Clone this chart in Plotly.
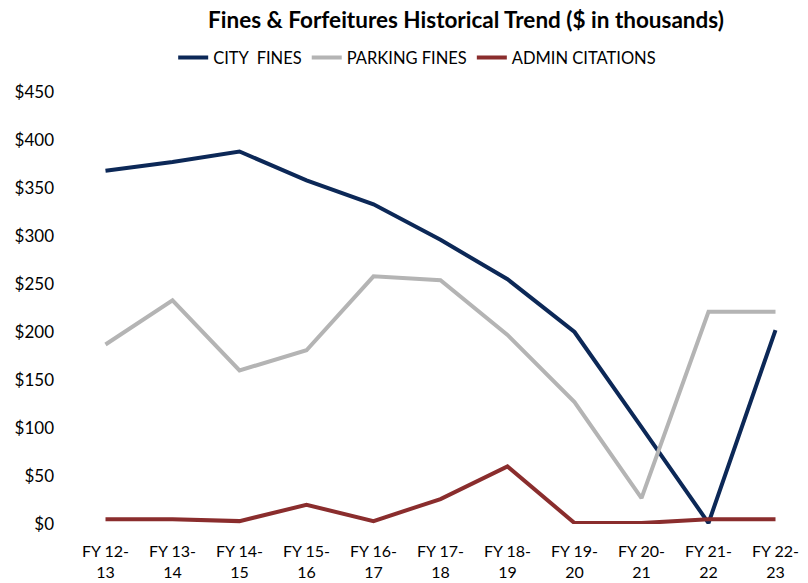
import plotly.graph_objects as go

categories = ["FY 12-<br>13", "FY 13-<br>14", "FY 14-<br>15", "FY 15-<br>16", "FY 16-<br>17",
              "FY 17-<br>18", "FY 18-<br>19", "FY 19-<br>20", "FY 20-<br>21", "FY 21-<br>22", "FY 22-<br>23"]
city_fines = [368, 377, 388, 358, 333, 296, 255, 200, 101, 1, 202]
parking_fines = [187, 233, 160, 181, 258, 254, 197, 127, 27, 221, 221]
admin_citations = [5, 5, 3, 20, 3, 26, 60, 1, 1, 5, 5]
y_ticks = [0, 50, 100, 150, 200, 250, 300, 350, 400, 450]
y_tick_labels = ["$" + str(v) for v in y_ticks]

FONT = "Lato, sans-serif"

fig = go.Figure()
series = [("CITY  FINES", city_fines, "#0C2857"),
          ("PARKING FINES", parking_fines, "#B4B4B4"),
          ("ADMIN CITATIONS", admin_citations, "#8A2D2D")]
for name, vals, color in series:
    fig.add_trace(go.Scatter(x=list(range(len(categories))), y=vals, name=name, mode="lines",
                             line=dict(color=color, width=4, shape="linear"),
                             cliponaxis=False))

fig.update_layout(
    width=800, height=575,
    paper_bgcolor="white", plot_bgcolor="white",
    margin=dict(l=64, r=0, t=84, b=59, autoexpand=False),
    font=dict(family=FONT, size=17, color="#000000"),
    title=dict(text="<b>Fines & Forfeitures Historical Trend ($ in thousands)</b>",
               x=0.5725, xanchor="center", y=0.979, yanchor="middle",
               font=dict(family=FONT, size=22.5, color="#000000")),
    legend=dict(orientation="h", x=0.469, xanchor="center", y=1.079, yanchor="middle",
                font=dict(family=FONT, size=16.5), traceorder="normal", itemwidth=30),
    showlegend=True,
)
fig.update_xaxes(tickmode="array", tickvals=list(range(len(categories))), ticktext=categories,
                 range=[-0.5, 10.485], showgrid=False, zeroline=False, showline=False,
                 ticks="", tickfont=dict(size=16), ticklabelstandoff=16, automargin=False,
                 ticklabeloverflow="allow")
fig.update_yaxes(range=[0, 450], tickvals=y_ticks, ticktext=y_tick_labels, showgrid=False,
                 zeroline=False, showline=False, ticks="", ticklabelstandoff=17,
                 tickfont=dict(size=17), automargin=False)

fig.write_html("out.html", post_script="document.documentElement.style.overflow='hidden';document.body.style.overflow='hidden';")
